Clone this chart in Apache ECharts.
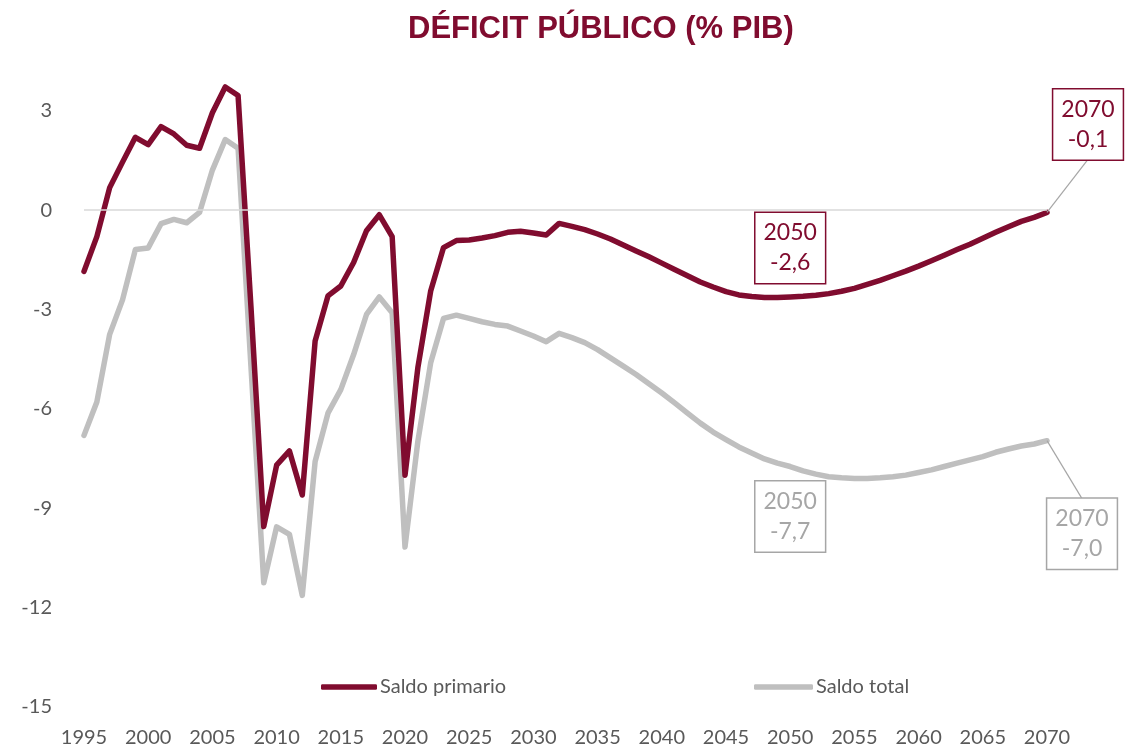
<!DOCTYPE html>
<html>
<head>
<meta charset="utf-8">
<script src="https://cdn.jsdelivr.net/npm/echarts@6/dist/echarts.min.js"></script>
<style>
html,body{margin:0;padding:0;background:#fff;}
#chart{width:1132px;height:750px;}
</style>
</head>
<body>
<div id="chart"></div>
<script>
// ---- data ----
var years = [];
for (var y = 1995; y <= 2070; y++) years.push(String(y));

var saldoPrimario = [
  -1.85, -0.80, 0.68, 1.45, 2.20, 1.98, 2.52, 2.30, 1.96, 1.87,
  2.94, 3.72, 3.46, -2.90, -9.55, -7.70, -7.27, -8.60, -3.95, -2.59,
  -2.29, -1.58, -0.62, -0.14, -0.80, -8.00, -4.76, -2.44, -1.13, -0.92,
  -0.90, -0.84, -0.77, -0.67, -0.64, -0.69, -0.75, -0.40, -0.49, -0.59,
  -0.72, -0.87, -1.05, -1.23, -1.41, -1.60, -1.79, -1.98, -2.17, -2.32,
  -2.46, -2.56, -2.61, -2.64, -2.64, -2.62, -2.60, -2.57, -2.52, -2.45,
  -2.36, -2.24, -2.12, -1.98, -1.84, -1.69, -1.53, -1.36, -1.19, -1.03,
  -0.85, -0.67, -0.50, -0.34, -0.22, -0.07
];

var saldoTotal = [
  -6.80, -5.79, -3.75, -2.71, -1.19, -1.14, -0.41, -0.28, -0.38, -0.07,
  1.21, 2.13, 1.87, -4.70, -11.25, -9.56, -9.79, -11.63, -7.59, -6.13,
  -5.42, -4.36, -3.15, -2.62, -3.10, -10.17, -6.98, -4.61, -3.27, -3.17,
  -3.27, -3.37, -3.45, -3.50, -3.65, -3.80, -3.97, -3.72, -3.85, -4.00,
  -4.21, -4.46, -4.71, -4.96, -5.24, -5.52, -5.82, -6.13, -6.43, -6.70,
  -6.93, -7.15, -7.33, -7.51, -7.64, -7.74, -7.87, -7.97, -8.05, -8.08,
  -8.10, -8.10, -8.08, -8.05, -8.00, -7.92, -7.84, -7.74, -7.64, -7.54,
  -7.44, -7.31, -7.21, -7.12, -7.06, -6.96
];

var yTicks = [-15, -12, -9, -6, -3, 0, 3];
var annotYears = ['2050', '2070'];
var seriesNames = ['Saldo primario', 'Saldo total'];
var titleText = 'DÉFICIT PÚBLICO (% PIB)';

// ---- styles ----
var RED = '#800C2F';
var GRAY = '#BFBFBF';
var GRAY_TXT = '#A6A6A6';
var AXIS_TXT = '#595959';
var FONT = 'Lato';

// label offsets (pixels) for the 2070 callouts: [dx, dy]
var PRIM_2070_SHIFT = [41, -39];
var TOT_2070_SHIFT = [35, 43];
var PRIM_DIST = 14, TOT_DIST = 15;

function annotData(values) {
  return annotYears.map(function (yr) {
    return [yr, values[years.indexOf(yr)]];
  });
}
function annotFormatter(p) {
  return p.value[0] + '\n' + p.value[1].toFixed(1).replace('.', ',');
}
function annotLabel(color, position, distance) {
  return {
    show: true, position: position, distance: distance, formatter: annotFormatter,
    fontFamily: FONT, fontSize: 23, lineHeight: 30, color: color,
    borderColor: color, borderWidth: 1.5, padding: [5, 8, 5, 8], backgroundColor: '#fff'
  };
}

var chart = echarts.init(document.getElementById('chart'), null, {renderer: 'canvas'});

var option = {
  animation: false,
  backgroundColor: '#fff',
  title: {
    text: titleText,
    left: 403,
    top: 9,
    textStyle: {fontFamily: 'Liberation Sans', fontWeight: 'bold', fontSize: 31, color: RED}
  },
  legend: [
    {
      data: [seriesNames[0]], left: 316, top: 672,
      icon: 'roundRect', itemWidth: 56, itemHeight: 5.5, itemGap: 4,
      textStyle: {fontFamily: FONT, fontSize: 20, color: AXIS_TXT, padding: [0, 0, 0, -2]}
    },
    {
      data: [seriesNames[1]], left: 749, top: 672,
      icon: 'roundRect', itemWidth: 59, itemHeight: 5.5, itemGap: 4,
      textStyle: {fontFamily: FONT, fontSize: 20, color: AXIS_TXT, padding: [0, 0, 0, -2]}
    }
  ],
  grid: {left: 84, right: 85, top: 11.4, bottom: 43},
  xAxis: {
    type: 'category',
    data: years,
    boundaryGap: false,
    axisLine: {show: false},
    axisTick: {show: false},
    splitLine: {show: false},
    axisLabel: {interval: 4, margin: 21, fontFamily: FONT, fontSize: 20, color: AXIS_TXT}
  },
  yAxis: {
    type: 'value',
    min: -15, max: 6, interval: 3,
    axisLine: {show: false},
    axisTick: {show: false},
    splitLine: {show: false},
    axisLabel: {
      margin: 32, fontFamily: FONT, fontSize: 20, color: AXIS_TXT,
      formatter: function (v) { return yTicks.indexOf(v) >= 0 ? String(v) : ''; }
    }
  },
  series: [
    {
      name: 'zero', type: 'line', data: [], z: 1, silent: true,
      markLine: {
        silent: true, symbol: 'none', label: {show: false},
        lineStyle: {color: '#D9D9D9', width: 1.5, type: 'solid'},
        data: [{yAxis: 0}]
      }
    },
    {
      name: seriesNames[1], type: 'line', data: saldoTotal, z: 3,
      symbol: 'none', color: GRAY,
      lineStyle: {color: GRAY, width: 5.5, cap: 'round', join: 'round'}
    },
    {
      name: seriesNames[0], type: 'line', data: saldoPrimario, z: 4,
      symbol: 'none', color: RED,
      lineStyle: {color: RED, width: 5.5, cap: 'round', join: 'round'}
    },
    {
      name: 'annotTotal', type: 'scatter', data: annotData(saldoTotal), z: 6,
      symbolSize: 0, silent: true, itemStyle: {opacity: 1},
      label: annotLabel(GRAY_TXT, 'bottom', TOT_DIST),
      labelLayout: function (p) {
        return p.dataIndex === 1 ? {dx: TOT_2070_SHIFT[0], dy: TOT_2070_SHIFT[1]} : {};
      }
    },
    {
      name: 'annotPrim', type: 'scatter', data: annotData(saldoPrimario), z: 6,
      symbolSize: 0, silent: true, itemStyle: {opacity: 1},
      label: annotLabel(RED, 'top', PRIM_DIST),
      labelLayout: function (p) {
        return p.dataIndex === 1 ? {dx: PRIM_2070_SHIFT[0], dy: PRIM_2070_SHIFT[1]} : {};
      }
    }
  ]
};
chart.setOption(option);

// leader lines for the 2070 callouts, derived from the axis scales
function leaders() {
  var yr = annotYears[1];
  var i = years.indexOf(yr);
  var pPrim = chart.convertToPixel({gridIndex: 0}, [yr, saldoPrimario[i]]);
  var pTot = chart.convertToPixel({gridIndex: 0}, [yr, saldoTotal[i]]);
  var style = {stroke: GRAY_TXT, lineWidth: 1.2};
  chart.setOption({
    graphic: [
      {type: 'line', z: 5, silent: true, style: style,
       shape: {x1: pPrim[0], y1: pPrim[1],
               x2: pPrim[0] + PRIM_2070_SHIFT[0], y2: pPrim[1] - PRIM_DIST + PRIM_2070_SHIFT[1]}},
      {type: 'line', z: 5, silent: true, style: style,
       shape: {x1: pTot[0], y1: pTot[1],
               x2: pTot[0] + TOT_2070_SHIFT[0], y2: pTot[1] + TOT_DIST + TOT_2070_SHIFT[1]}}
    ]
  });
}
leaders();
</script>
</body>
</html>
